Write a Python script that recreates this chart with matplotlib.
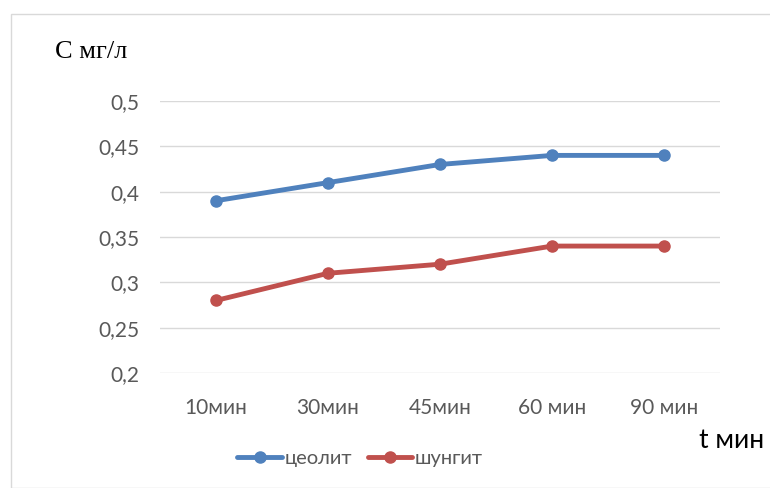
import matplotlib
matplotlib.use("Agg")
import matplotlib.pyplot as plt
from matplotlib.patches import Rectangle

categories = ["10мин", "30мин", "45мин", "60 мин", "90 мин"]
zeolite = [0.39, 0.41, 0.43, 0.44, 0.44]
shungite = [0.28, 0.31, 0.32, 0.34, 0.34]
yticks = [0.2, 0.25, 0.3, 0.35, 0.4, 0.45, 0.5]
ytick_labels = ["0,2", "0,25", "0,3", "0,35", "0,4", "0,45", "0,5"]

W, H = 770, 488
fig = plt.figure(figsize=(W/100, H/100), dpi=100)
fig.patches.append(Rectangle((11/W, 0), 1.2, 1 - 14/H - 0, transform=fig.transFigure,
                             fill=False, edgecolor="#d9d9d9", linewidth=1))
ax = fig.add_axes([160/W, 1 - 373/H, (720-160)/W, (373-101)/H])
x = list(range(len(categories)))
ax.plot(x, zeolite, color="#4f81bd", linewidth=3.5, marker="o", markersize=8, label="цеолит", solid_capstyle="round")
ax.plot(x, shungite, color="#c0504d", linewidth=3.5, marker="o", markersize=8, label="шунгит", solid_capstyle="round")
ax.set_xlim(-0.5, 4.5)
ax.set_ylim(0.2, 0.5)
ax.set_yticks(yticks)
ax.set_yticklabels(ytick_labels)
ax.set_xticks(x)
ax.set_xticklabels(categories)
ax.grid(axis="y", color="#d9d9d9", linewidth=1)
ax.set_axisbelow(True)
for s in ax.spines.values():
    s.set_visible(False)
ax.tick_params(length=0, labelsize=15, labelcolor="#595959")
for lab in ax.get_xticklabels() + ax.get_yticklabels():
    lab.set_family("Lato")
ax.tick_params(axis="x", pad=18)
ax.tick_params(axis="y", pad=15)

fig.text(55/W, 1 - 52/H, "С мг/л", family="Liberation Serif", fontsize=19, va="center", ha="left", color="black")
fig.text(699/W, 1 - 441/H, "t мин", family="Lato", fontsize=19, va="center", ha="left", color="black")

leg = fig.legend(loc="center", bbox_to_anchor=(360/W, 1 - 458/H), ncol=2, frameon=False,
                 prop={"family": "Lato", "size": 14.5}, handlelength=2.2, handletextpad=0.12, columnspacing=0.8)
for t in leg.get_texts():
    t.set_color("#595959")

fig.savefig("out.png", dpi=100)
